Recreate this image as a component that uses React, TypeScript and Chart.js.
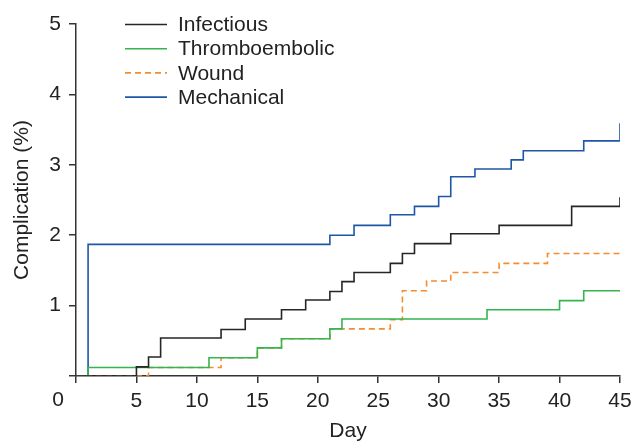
import React, { useEffect, useRef } from "react";
import { Chart, registerables } from "chart.js";

Chart.register(...registerables);

const seriesLabels = ["Infectious", "Thromboembolic", "Wound", "Mechanical"];
const seriesColors = ["#262626", "#35b54f", "#f68b2f", "#1f57a6"];

const infectiousDays = [0, 5, 6, 7, 12, 14, 17, 19, 21, 22, 23, 26, 27, 28, 31, 35, 41, 45];
const infectiousValues = [0, 0.13, 0.27, 0.54, 0.66, 0.81, 0.94, 1.08, 1.2, 1.34, 1.47, 1.6, 1.74, 1.88, 2.02, 2.14, 2.41, 2.54];

const thromboDays = [0, 1, 11, 15, 17, 21, 22, 34, 40, 42, 45];
const thromboValues = [0, 0.12, 0.26, 0.4, 0.53, 0.67, 0.81, 0.94, 1.07, 1.21, 1.21];

const woundDays = [0, 6, 12, 15, 17, 21, 26, 27, 29, 31, 35, 39, 45];
const woundValues = [0, 0.12, 0.26, 0.4, 0.53, 0.67, 0.8, 1.21, 1.35, 1.47, 1.6, 1.74, 1.74];

const mechanicalDays = [0, 1, 21, 23, 26, 28, 30, 31, 33, 36, 37, 42, 45];
const mechanicalValues = [0, 1.87, 2.0, 2.14, 2.29, 2.41, 2.55, 2.83, 2.94, 3.07, 3.2, 3.34, 3.59];

const xTickValues = [0, 5, 10, 15, 20, 25, 30, 35, 40, 45];
const yTickValues = [0, 1, 2, 3, 4, 5];
const xTitle = "Day";
const yTitle = "Complication (%)";

const FONT = '"Liberation Sans", Arial, Helvetica, sans-serif';
const FS = 21;
const AXIS = "#333333";
const TEXT = "#222222";

function pts(days: number[], vals: number[]) {
  return days.map((d, i) => ({ x: d, y: vals[i] }));
}

const overlayPlugin = {
  id: "overlay",
  afterDraw(chart: any) {
    const ctx = chart.ctx as CanvasRenderingContext2D;
    const area = chart.chartArea;
    const xs = chart.scales.x;
    ctx.save();
    ctx.font = `${FS}px ${FONT}`;
    ctx.fillStyle = TEXT;
    // origin label, shifted left of the corner
    ctx.textAlign = "center";
    ctx.textBaseline = "middle";
    ctx.fillText(String(xTickValues[0]), area.left - 18, xs.top + 24.5);
    // legend
    const lx0 = area.left + 49;
    const lx1 = area.left + 91;
    const tx = area.left + 102;
    ctx.textAlign = "left";
    chart.data.datasets.forEach((ds: any, i: number) => {
      const y = area.top + 0.5 + i * 24.2;
      ctx.beginPath();
      ctx.strokeStyle = ds.borderColor;
      ctx.lineWidth = ds.borderWidth;
      ctx.setLineDash(ds.borderDash || []);
      ctx.moveTo(lx0, y);
      ctx.lineTo(lx1, y);
      ctx.stroke();
      ctx.setLineDash([]);
      ctx.fillText(ds.label, tx, y + 1);
    });
    ctx.restore();
  },
};

export default function App() {
  const ref = useRef<HTMLCanvasElement | null>(null);
  useEffect(() => {
    if (!ref.current) return;
    const seriesDays = [infectiousDays, thromboDays, woundDays, mechanicalDays];
    const seriesVals = [infectiousValues, thromboValues, woundValues, mechanicalValues];
    const chart = new Chart(ref.current, {
      type: "line",
      data: {
        datasets: seriesLabels.map((label, i) => ({
          label,
          data: pts(seriesDays[i], seriesVals[i]),
          borderColor: seriesColors[i],
          backgroundColor: seriesColors[i],
          borderWidth: 1.6,
          borderDash: label === "Wound" ? [6, 4] : [],
          stepped: true,
          pointRadius: 0,
          fill: false,
        })),
      },
      options: {
        animation: false,
        responsive: false,
        devicePixelRatio: 1,
        layout: { padding: { left: 0, right: 13, top: 24, bottom: 0 } },
        plugins: {
          legend: { display: false },
          tooltip: { enabled: false },
        },
        scales: {
          x: {
            type: "linear",
            min: 0,
            max: 45,
            afterFit: (s: any) => {
              s.height = 66;
              s.paddingLeft = 0;
              s.paddingRight = 0;
            },
            afterBuildTicks: (s: any) => {
              s.ticks = xTickValues.map((v) => ({ value: v }));
            },
            ticks: {
              callback: (v: any) => (v === 0 ? "" : String(v)),
              font: { family: FONT, size: FS },
              color: TEXT,
              padding: 6,
              maxRotation: 0,
              autoSkip: false,
            },
            grid: {
              drawOnChartArea: false,
              drawTicks: true,
              tickLength: 7,
              color: AXIS,
              lineWidth: 1.5,
            },
            border: { display: true, color: AXIS, width: 1.5 },
            title: {
              display: true,
              text: xTitle,
              font: { family: FONT, size: FS, lineHeight: 1 },
              color: TEXT,
              padding: { top: 0, bottom: 0 },
            },
          },
          y: {
            type: "linear",
            min: 0,
            max: 5,
            afterFit: (s: any) => {
              s.width = 76;
              s.paddingTop = 0;
              s.paddingBottom = 0;
            },
            afterBuildTicks: (s: any) => {
              s.ticks = yTickValues.map((v) => ({ value: v }));
            },
            ticks: {
              callback: (v: any) => (v === 0 ? "" : String(v)),
              font: { family: FONT, size: FS },
              color: TEXT,
              padding: 8,
              autoSkip: false,
            },
            grid: {
              drawOnChartArea: false,
              drawTicks: true,
              tickLength: 7,
              color: AXIS,
              lineWidth: 1.5,
            },
            border: { display: true, color: AXIS, width: 1.5 },
            title: {
              display: true,
              text: yTitle,
              font: { family: FONT, size: FS },
              color: TEXT,
              padding: { top: 10, bottom: 0 },
            },
          },
        },
      },
      plugins: [overlayPlugin],
    } as any);
    return () => chart.destroy();
  }, []);
  return (
    <div style={{ position: "fixed", left: 0, top: 0, width: 633, height: 442, background: "#fff" }}>
      <canvas ref={ref} width={633} height={442} style={{ display: "block" }} />
    </div>
  );
}
